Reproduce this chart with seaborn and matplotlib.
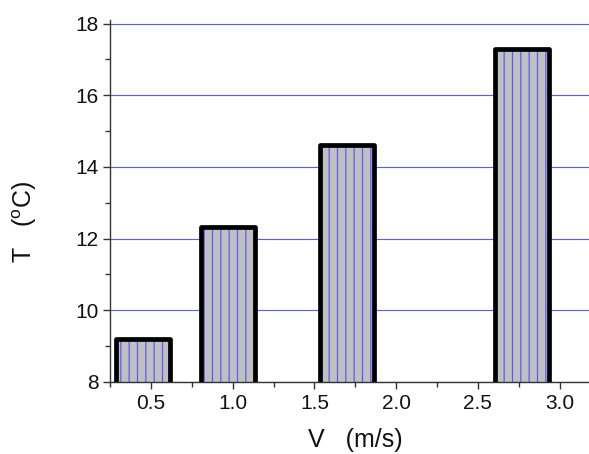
import pandas as pd
import seaborn as sns
import matplotlib.pyplot as plt
from matplotlib.ticker import MultipleLocator, FormatStrFormatter

# bar positions (m/s) and temperatures (deg C)
speed = [0.45, 0.97, 1.70, 2.77]
temp = [9.19, 12.33, 14.61, 17.29]

df = pd.DataFrame({'V': speed, 'T': temp})

sns.set_style('white')
plt.rcParams['font.family'] = ['Liberation Sans', 'DejaVu Sans']
plt.rcParams['hatch.linewidth'] = 0.9

fig = plt.figure(figsize=(5.89, 4.54), dpi=100)
ax = fig.add_axes([0.187, 0.159, 0.813, 0.797])

# grey fill with blue vertical hatch
sns.barplot(data=df, x='V', y='T', native_scale=True, width=0.635,
            color='#c0c0c0', edgecolor='#5a5aff', linewidth=0, hatch='||',
            saturation=1, ax=ax, zorder=2)
# thick black outline on top
sns.barplot(data=df, x='V', y='T', native_scale=True, width=0.635,
            fill=False, color='black', linewidth=3.4, saturation=1,
            ax=ax, zorder=3)
for p in ax.patches:
    p.set_joinstyle('round')

ax.set_xlim(0.25, 3.18)
ax.set_ylim(8, 18.1)
ax.xaxis.set_major_locator(MultipleLocator(0.5))
ax.xaxis.set_minor_locator(MultipleLocator(0.25))
ax.xaxis.set_major_formatter(FormatStrFormatter('%.1f'))
ax.yaxis.set_major_locator(MultipleLocator(2))
ax.yaxis.set_minor_locator(MultipleLocator(1))

ax.set_axisbelow(True)
ax.yaxis.grid(True, color='#5a5aff', linewidth=0.8)
ax.xaxis.grid(False)

for side in ['top', 'right']:
    ax.spines[side].set_visible(False)
for side in ['left', 'bottom']:
    ax.spines[side].set_color('#333333')
    ax.spines[side].set_linewidth(1.0)

ax.tick_params(which='major', direction='out', length=5, width=1,
               color='#333333', labelsize=15, labelcolor='#111111',
               bottom=True, left=True)
ax.tick_params(which='minor', direction='out', length=3.5, width=1,
               color='#333333', bottom=True, left=True)

ax.set_xlabel('V   (m/s)', fontsize=18, color='#111111')
ax.set_ylabel(r'T   ($\mathregular{^{o}}$C)', fontsize=18, color='#111111')
ax.xaxis.set_label_coords(0.512, -0.127)
ax.yaxis.set_label_coords(-0.148, 0.442)

plt.savefig('out.png', dpi=100)
